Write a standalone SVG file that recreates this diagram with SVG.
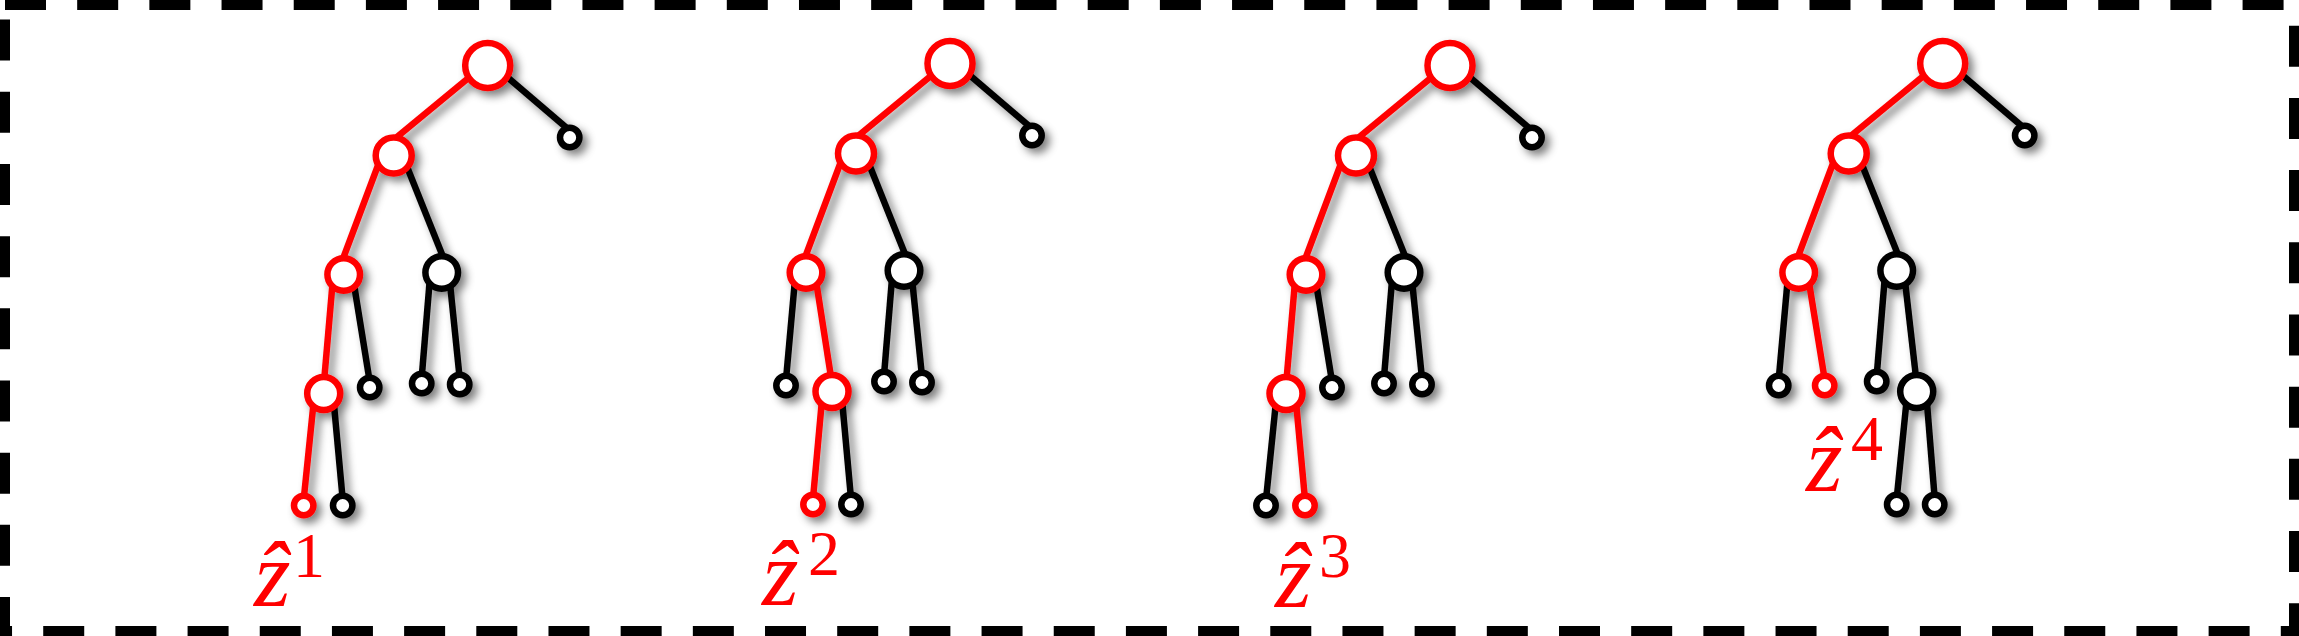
<svg xmlns="http://www.w3.org/2000/svg" width="2299" height="636" viewBox="0 0 2299 636">
<style>
.r{stroke:#ff0000}
.k{stroke:#000000}
line{stroke-width:6.5;fill:none}
circle{fill:#ffffff;stroke-width:6.5}
.lbl{font-family:"Liberation Serif","DejaVu Serif",serif;fill:#ff0000}
.zz{font-style:italic;font-size:94px}
.sup{font-size:64px}
</style>
<defs>
<filter id="sh" x="-20%" y="-20%" width="140%" height="140%">
<feGaussianBlur in="SourceAlpha" stdDeviation="4"/>
<feOffset dx="5" dy="5" result="b"/>
<feFlood flood-color="#000" flood-opacity="0.5"/>
<feComposite in2="b" operator="in"/>
<feMerge><feMergeNode/><feMergeNode in="SourceGraphic"/></feMerge>
</filter>
</defs>
<rect x="5" y="5" width="2289" height="626" fill="none" stroke="#000" stroke-width="10" stroke-dasharray="41 31.18"/>

<!-- Tree 1 -->
<g id="tree1" transform="translate(487.7,65.5)" filter="url(#sh)">
<g id="t1-edges">
<line class="r" x1="-15" y1="9" x2="-95" y2="75"/>
<line class="k" x1="13" y1="6" x2="82" y2="65"/>
<line class="r" x1="-109" y1="98" x2="-146.5" y2="198"/>
<line class="k" x1="-82" y1="98" x2="-44" y2="193"/>
<line class="r" x1="-155" y1="216" x2="-164" y2="320"/>
<line class="k" x1="-134" y1="217" x2="-118" y2="316"/>
<line class="k" x1="-58" y1="215" x2="-66" y2="312"/>
<line class="k" x1="-38" y1="215" x2="-28" y2="313"/>
<line class="r" x1="-174" y1="336" x2="-184" y2="434"/>
<line class="k" x1="-154" y1="336" x2="-145" y2="434"/>
</g>
<g id="t1-root"><circle class="r" cx="0" cy="0" r="22.5"/></g>
<g id="t1-a"><circle class="k" cx="82" cy="72" r="9.7"/></g>
<g id="t1-b"><circle class="r" cx="-94" cy="90" r="18"/></g>
<g id="t1-c"><circle class="r" cx="-144" cy="209" r="16.3"/></g>
<g id="t1-d"><circle class="k" cx="-46" cy="207" r="16.3"/></g>
<g id="t1-e"><circle class="r" cx="-164" cy="328" r="16.5"/></g>
<g id="t1-f"><circle class="k" cx="-118" cy="322" r="9.7"/></g>
<g id="t1-d1"><circle class="k" cx="-66" cy="318" r="9.7"/></g>
<g id="t1-d2"><circle class="k" cx="-28" cy="319" r="9.7"/></g>
<g id="t1-e1"><circle class="r" cx="-184" cy="440" r="9.7"/></g>
<g id="t1-e2"><circle class="k" cx="-145" cy="440" r="9.7"/></g>
</g>

<!-- Tree 2 -->
<g id="tree2" transform="translate(950,63.5)" filter="url(#sh)">
<g id="t2-edges">
<line class="r" x1="-15" y1="9" x2="-95" y2="75"/>
<line class="k" x1="13" y1="6" x2="82" y2="65"/>
<line class="r" x1="-109" y1="98" x2="-146.5" y2="198"/>
<line class="k" x1="-82" y1="98" x2="-44" y2="193"/>
<line class="k" x1="-155" y1="216" x2="-164" y2="316"/>
<line class="r" x1="-134" y1="217" x2="-118" y2="320"/>
<line class="k" x1="-58" y1="215" x2="-66" y2="312"/>
<line class="k" x1="-38" y1="215" x2="-28" y2="313"/>
<line class="r" x1="-128" y1="336" x2="-137" y2="435"/>
<line class="k" x1="-108" y1="336" x2="-99" y2="435"/>
</g>
<g id="t2-root"><circle class="r" cx="0" cy="0" r="22.5"/></g>
<g id="t2-a"><circle class="k" cx="82" cy="72" r="9.7"/></g>
<g id="t2-b"><circle class="r" cx="-94" cy="90" r="18"/></g>
<g id="t2-c"><circle class="r" cx="-144" cy="209" r="16.3"/></g>
<g id="t2-d"><circle class="k" cx="-46" cy="207" r="16.3"/></g>
<g id="t2-c1"><circle class="k" cx="-164" cy="322" r="9.7"/></g>
<g id="t2-e"><circle class="r" cx="-118" cy="328" r="16.5"/></g>
<g id="t2-d1"><circle class="k" cx="-66" cy="318" r="9.7"/></g>
<g id="t2-d2"><circle class="k" cx="-28" cy="319" r="9.7"/></g>
<g id="t2-e1"><circle class="r" cx="-137" cy="441" r="9.7"/></g>
<g id="t2-e2"><circle class="k" cx="-99" cy="441" r="9.7"/></g>
</g>

<!-- Tree 3 -->
<g id="tree3" transform="translate(1450,65.5)" filter="url(#sh)">
<g id="t3-edges">
<line class="r" x1="-15" y1="9" x2="-95" y2="75"/>
<line class="k" x1="13" y1="6" x2="82" y2="65"/>
<line class="r" x1="-109" y1="98" x2="-146.5" y2="198"/>
<line class="k" x1="-82" y1="98" x2="-44" y2="193"/>
<line class="r" x1="-155" y1="216" x2="-164" y2="320"/>
<line class="k" x1="-134" y1="217" x2="-118" y2="316"/>
<line class="k" x1="-58" y1="215" x2="-66" y2="312"/>
<line class="k" x1="-38" y1="215" x2="-28" y2="313"/>
<line class="k" x1="-174" y1="336" x2="-184" y2="434"/>
<line class="r" x1="-154" y1="336" x2="-145" y2="434"/>
</g>
<g id="t3-root"><circle class="r" cx="0" cy="0" r="22.5"/></g>
<g id="t3-a"><circle class="k" cx="82" cy="72" r="9.7"/></g>
<g id="t3-b"><circle class="r" cx="-94" cy="90" r="18"/></g>
<g id="t3-c"><circle class="r" cx="-144" cy="209" r="16.3"/></g>
<g id="t3-d"><circle class="k" cx="-46" cy="207" r="16.3"/></g>
<g id="t3-e"><circle class="r" cx="-164" cy="328" r="16.5"/></g>
<g id="t3-f"><circle class="k" cx="-118" cy="322" r="9.7"/></g>
<g id="t3-d1"><circle class="k" cx="-66" cy="318" r="9.7"/></g>
<g id="t3-d2"><circle class="k" cx="-28" cy="319" r="9.7"/></g>
<g id="t3-e1"><circle class="k" cx="-184" cy="440" r="9.7"/></g>
<g id="t3-e2"><circle class="r" cx="-145" cy="440" r="9.7"/></g>
</g>

<!-- Tree 4 -->
<g id="tree4" transform="translate(1942.7,63.5)" filter="url(#sh)">
<g id="t4-edges">
<line class="r" x1="-15" y1="9" x2="-95" y2="75"/>
<line class="k" x1="13" y1="6" x2="82" y2="65"/>
<line class="r" x1="-109" y1="98" x2="-146.5" y2="198"/>
<line class="k" x1="-82" y1="98" x2="-44" y2="193"/>
<line class="k" x1="-155" y1="216" x2="-164" y2="316"/>
<line class="r" x1="-134" y1="217" x2="-118" y2="316"/>
<line class="k" x1="-58" y1="215" x2="-66" y2="312"/>
<line class="k" x1="-38" y1="215" x2="-26" y2="320"/>
<line class="k" x1="-36" y1="336" x2="-46" y2="435"/>
<line class="k" x1="-16" y1="336" x2="-8" y2="435"/>
</g>
<g id="t4-root"><circle class="r" cx="0" cy="0" r="22.5"/></g>
<g id="t4-a"><circle class="k" cx="82" cy="72" r="9.7"/></g>
<g id="t4-b"><circle class="r" cx="-94" cy="90" r="18"/></g>
<g id="t4-c"><circle class="r" cx="-144" cy="209" r="16.3"/></g>
<g id="t4-d"><circle class="k" cx="-46" cy="207" r="16.3"/></g>
<g id="t4-c1"><circle class="k" cx="-164" cy="322" r="9.7"/></g>
<g id="t4-c2"><circle class="r" cx="-118" cy="322" r="9.7"/></g>
<g id="t4-d1"><circle class="k" cx="-66" cy="318" r="9.7"/></g>
<g id="t4-g"><circle class="k" cx="-26" cy="328" r="16.5"/></g>
<g id="t4-g1"><circle class="k" cx="-46" cy="441" r="9.7"/></g>
<g id="t4-g2"><circle class="k" cx="-8" cy="441" r="9.7"/></g>
</g>

<!-- Labels -->
<g id="label1"><text class="lbl"><tspan class="zz" x="254" y="606">ẑ</tspan><tspan class="sup" x="293" y="577">1</tspan></text></g>
<g id="label2"><text class="lbl"><tspan class="zz" x="762" y="605">ẑ</tspan><tspan class="sup" x="808" y="575">2</tspan></text></g>
<g id="label3"><text class="lbl"><tspan class="zz" x="1275" y="607">ẑ</tspan><tspan class="sup" x="1319" y="577">3</tspan></text></g>
<g id="label4"><text class="lbl"><tspan class="zz" x="1806" y="491">ẑ</tspan><tspan class="sup" x="1851" y="460">4</tspan></text></g>
</svg>
